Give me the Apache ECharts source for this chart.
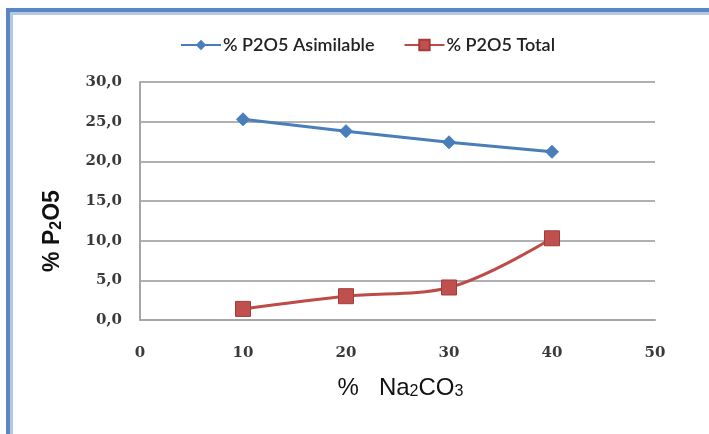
<!DOCTYPE html>
<html>
<head>
<meta charset="utf-8">
<script src="https://cdn.jsdelivr.net/npm/echarts@6/dist/echarts.min.js"></script>
<style>
  html, body { margin: 0; padding: 0; background: #ffffff; }
  #chart { width: 709px; height: 434px; }
</style>
</head>
<body>
<div id="chart"></div>
<script>
// % Na2CO3 added
const na2co3 = [10, 20, 30, 40];
// P2O5 content (%)
const p2o5Asimilable = [25.3, 23.8, 22.4, 21.2];
const p2o5Total = [1.4, 3.0, 4.1, 10.3];

const xTicks = [0, 10, 20, 30, 40, 50];
const yTicks = [0, 5, 10, 15, 20, 25, 30];

const chart = echarts.init(document.getElementById('chart'));

const tickFont = {
  color: '#3a3a3a',
  fontFamily: 'DejaVu Serif',
  fontWeight: 'bold',
  fontSize: 15
};

chart.setOption({
  backgroundColor: '#ffffff',
  animation: false,
  graphic: [
    // blue frame around the chart
    {
      type: 'rect',
      shape: { x: 8, y: 10, width: 720, height: 440 },
      style: { fill: 'none', stroke: '#5a86c4', lineWidth: 4 },
      z: 100
    },
    {
      type: 'rect',
      shape: { x: 11.5, y: 13.5, width: 720, height: 440 },
      style: { fill: 'none', stroke: '#b4c8e6', lineWidth: 3 },
      z: 100
    }
  ],
  legend: {
    top: 36,
    left: 180,
    padding: 0,
    itemGap: 29,
    itemWidth: 40,
    itemHeight: 13,
    textStyle: {
      fontFamily: 'Lato',
      fontWeight: 600,
      fontSize: 18,
      color: '#222',
      padding: [0, 0, 0, -3]
    },
    data: ['% P2O5 Asimilable', '% P2O5 Total']
  },
  grid: { left: 140, right: 54, top: 82, bottom: 114 },
  xAxis: {
    type: 'value',
    min: xTicks[0],
    max: xTicks[xTicks.length - 1],
    interval: 10,
    name: '%   Na{s|2}CO{s|3}',
    nameLocation: 'middle',
    nameGap: 56,
    nameTextStyle: {
      fontFamily: 'Liberation Sans',
      fontSize: 24,
      color: '#111',
      padding: [0, 0, 0, 6],
      rich: {
        s: { fontFamily: 'Liberation Sans', fontSize: 16, color: '#111', padding: [7, 0, 0, 0] }
      }
    },
    axisLine: { show: true, lineStyle: { color: '#a6a6a6', width: 2 } },
    axisTick: { show: false },
    splitLine: { show: false },
    axisLabel: Object.assign({ margin: 26 }, tickFont)
  },
  yAxis: {
    type: 'value',
    min: yTicks[0],
    max: yTicks[yTicks.length - 1],
    interval: 5,
    name: '% P{s|2}O5',
    nameLocation: 'middle',
    nameGap: 75,
    nameRotate: 90,
    nameTextStyle: {
      fontFamily: 'Liberation Sans',
      fontSize: 23,
      fontWeight: 'bold',
      color: '#111',
      padding: [0, 60, 0, 0],
      rich: {
        s: { fontFamily: 'Liberation Sans', fontSize: 16, fontWeight: 'bold', color: '#111', padding: [9, 0, 0, 0] }
      }
    },
    axisLine: { show: true, lineStyle: { color: '#a6a6a6', width: 2 } },
    axisTick: { show: false },
    splitLine: { show: true, lineStyle: { color: '#b0b0b0', width: 2 } },
    axisLabel: Object.assign({
      margin: 18,
      formatter: v => v.toFixed(1).replace('.', ',')
    }, tickFont)
  },
  series: [
    {
      name: '% P2O5 Asimilable',
      type: 'line',
      data: na2co3.map((x, i) => [x, p2o5Asimilable[i]]),
      symbol: 'diamond',
      symbolSize: 13,
      lineStyle: { color: '#4a7ebb', width: 3 },
      itemStyle: { color: '#4a7ebb', borderColor: '#4a7ebb' }
    },
    {
      name: '% P2O5 Total',
      type: 'line',
      data: na2co3.map((x, i) => [x, p2o5Total[i]]),
      smooth: 0.35,
      symbol: 'rect',
      symbolSize: 15,
      lineStyle: { color: '#be4b48', width: 3 },
      itemStyle: { color: '#c0504d', borderColor: '#a33c39', borderWidth: 1 }
    }
  ]
});
</script>
</body>
</html>
